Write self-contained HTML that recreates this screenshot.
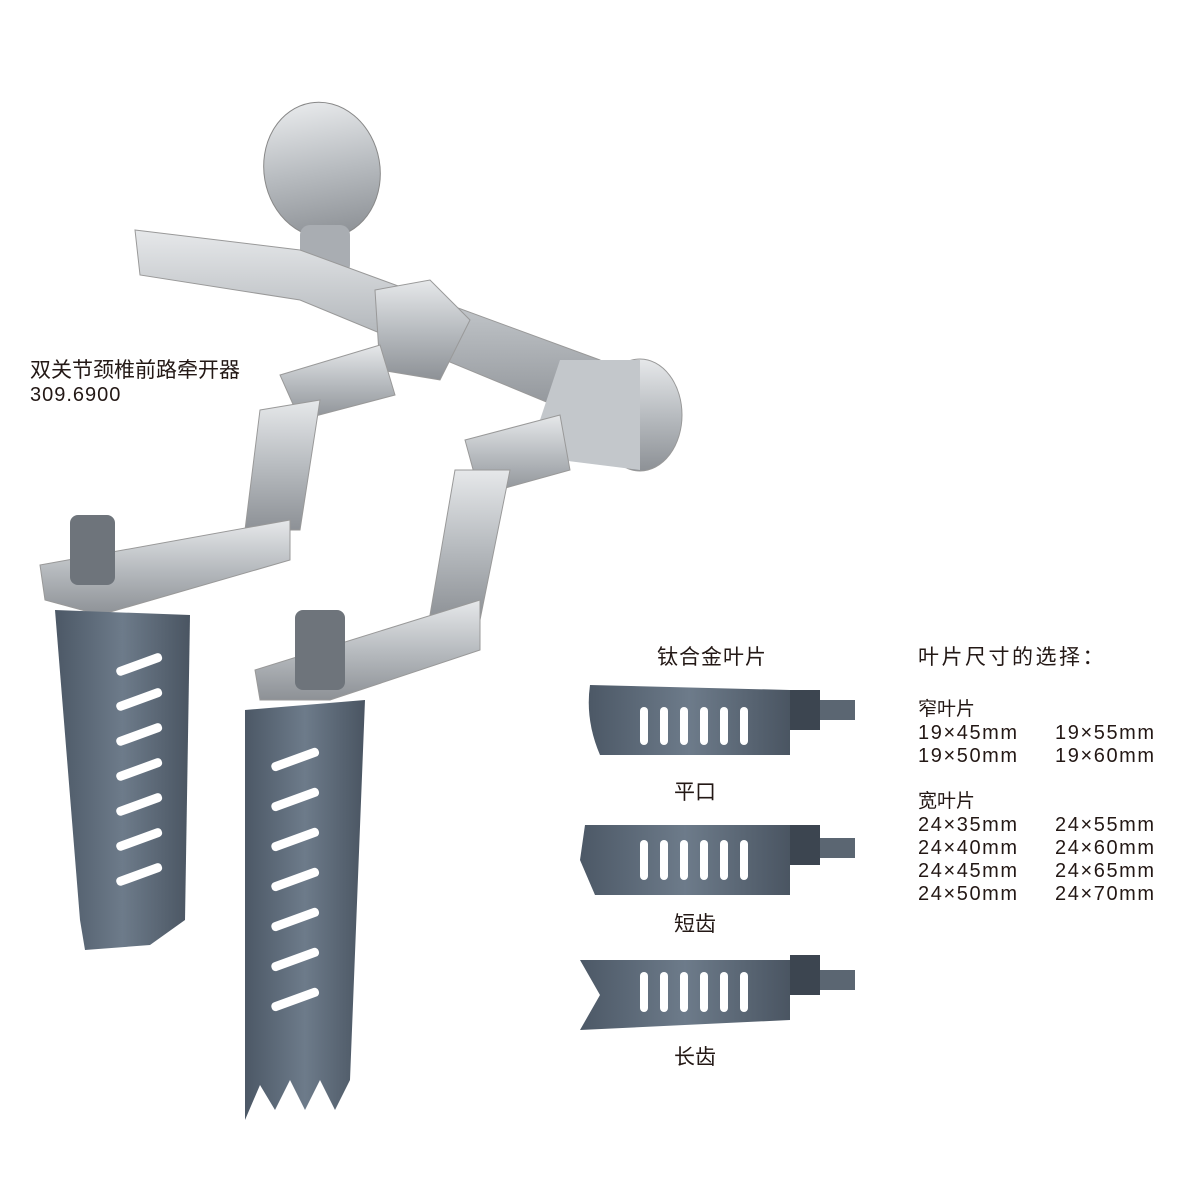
<!DOCTYPE html>
<html><head><meta charset="utf-8"><style>
html,body{margin:0;padding:0;background:#fff;width:1200px;height:1200px;overflow:hidden}
.t{position:absolute;font-family:"Liberation Sans","Noto Sans CJK SC",sans-serif;color:#231815;white-space:nowrap;line-height:1}
.n{letter-spacing:1.6px;font-size:20px;line-height:23px}
</style></head><body>
<svg width="1200" height="1200" style="position:absolute;left:0;top:0">
<defs>
<linearGradient id="m" x1="0" y1="0" x2="0" y2="1"><stop offset="0" stop-color="#e6e8ea"/><stop offset="0.5" stop-color="#b8bcc0"/><stop offset="1" stop-color="#8d9196"/></linearGradient>
<linearGradient id="b" x1="0" y1="0" x2="1" y2="0"><stop offset="0" stop-color="#4c5866"/><stop offset="0.5" stop-color="#6d7b8a"/><stop offset="1" stop-color="#4a5562"/></linearGradient>
</defs>
<ellipse cx="322" cy="170" rx="58" ry="68" fill="url(#m)" stroke="#888" transform="rotate(-10 322 170)"/>
<rect x="300" y="225" width="50" height="50" rx="10" fill="#a9adb2"/>
<polygon points="135,230 300,250 600,360 590,420 300,300 140,275" fill="url(#m)" stroke="#999"/>
<polygon points="375,290 430,280 470,320 440,380 380,370" fill="url(#m)" stroke="#999"/>
<ellipse cx="640" cy="415" rx="42" ry="56" fill="url(#m)" stroke="#999"/>
<polygon points="560,360 640,360 640,470 560,460 540,420" fill="#c3c7cb"/>
<polygon points="280,375 380,345 395,395 300,420" fill="url(#m)" stroke="#999"/>
<polygon points="260,410 320,400 300,530 245,530" fill="url(#m)" stroke="#999"/>
<polygon points="40,565 290,520 290,560 100,615 45,600" fill="url(#m)" stroke="#999"/>
<rect x="70" y="515" width="45" height="70" rx="8" fill="#6e747b"/>
<polygon points="465,440 560,415 570,470 480,495" fill="url(#m)" stroke="#999"/>
<polygon points="455,470 510,470 480,620 430,615" fill="url(#m)" stroke="#999"/>
<polygon points="255,670 480,600 480,650 330,700 260,700" fill="url(#m)" stroke="#999"/>
<rect x="295" y="610" width="50" height="80" rx="8" fill="#6e747b"/>
<path d="M55,610 L190,615 L185,920 L150,945 L85,950 L80,920 Z" fill="url(#b)"/>
<path d="M245,710 L365,700 L350,1080 L335,1110 L320,1080 L305,1110 L290,1080 L275,1110 L260,1085 L245,1120 Z" fill="url(#b)"/>
<g fill="#fff">
<rect x="115" y="660" width="48" height="9" rx="4" transform="rotate(-20 139 664)"/>
<rect x="115" y="695" width="48" height="9" rx="4" transform="rotate(-20 139 699)"/>
<rect x="115" y="730" width="48" height="9" rx="4" transform="rotate(-20 139 734)"/>
<rect x="115" y="765" width="48" height="9" rx="4" transform="rotate(-20 139 769)"/>
<rect x="115" y="800" width="48" height="9" rx="4" transform="rotate(-20 139 804)"/>
<rect x="115" y="835" width="48" height="9" rx="4" transform="rotate(-20 139 839)"/>
<rect x="115" y="870" width="48" height="9" rx="4" transform="rotate(-20 139 874)"/>
<rect x="270" y="755" width="50" height="9" rx="4" transform="rotate(-20 295 759)"/>
<rect x="270" y="795" width="50" height="9" rx="4" transform="rotate(-20 295 799)"/>
<rect x="270" y="835" width="50" height="9" rx="4" transform="rotate(-20 295 839)"/>
<rect x="270" y="875" width="50" height="9" rx="4" transform="rotate(-20 295 879)"/>
<rect x="270" y="915" width="50" height="9" rx="4" transform="rotate(-20 295 919)"/>
<rect x="270" y="955" width="50" height="9" rx="4" transform="rotate(-20 295 959)"/>
<rect x="270" y="995" width="50" height="9" rx="4" transform="rotate(-20 295 999)"/>
</g>
<path d="M590,685 L790,690 L790,755 L600,755 Q585,720 590,685Z" fill="url(#b)"/>
<rect x="790" y="690" width="30" height="40" fill="#3c4550"/><rect x="820" y="700" width="35" height="20" fill="#5b6672"/>
<path d="M585,825 L790,825 L790,895 L595,895 L580,860Z" fill="url(#b)"/>
<rect x="790" y="825" width="30" height="40" fill="#3c4550"/><rect x="820" y="838" width="35" height="20" fill="#5b6672"/>
<path d="M580,960 L790,960 L790,1020 L580,1030 L600,995Z" fill="url(#b)"/>
<rect x="790" y="955" width="30" height="40" fill="#3c4550"/><rect x="820" y="970" width="35" height="20" fill="#5b6672"/>
<g fill="#fff">
<rect x="640" y="707" width="8" height="38" rx="4"/><rect x="660" y="707" width="8" height="38" rx="4"/><rect x="680" y="707" width="8" height="38" rx="4"/><rect x="700" y="707" width="8" height="38" rx="4"/><rect x="720" y="707" width="8" height="38" rx="4"/><rect x="740" y="707" width="8" height="38" rx="4"/>
<rect x="640" y="840" width="8" height="40" rx="4"/><rect x="660" y="840" width="8" height="40" rx="4"/><rect x="680" y="840" width="8" height="40" rx="4"/><rect x="700" y="840" width="8" height="40" rx="4"/><rect x="720" y="840" width="8" height="40" rx="4"/><rect x="740" y="840" width="8" height="40" rx="4"/>
<rect x="640" y="972" width="8" height="40" rx="4"/><rect x="660" y="972" width="8" height="40" rx="4"/><rect x="680" y="972" width="8" height="40" rx="4"/><rect x="700" y="972" width="8" height="40" rx="4"/><rect x="720" y="972" width="8" height="40" rx="4"/><rect x="740" y="972" width="8" height="40" rx="4"/>
</g>
</svg>
<div class="t" style="left:30px;top:360px;font-size:21px">双关节颈椎前路牵开器</div>
<div class="t" style="left:30px;top:385px;font-size:20px;letter-spacing:1px">309.6900</div>
<div class="t" style="left:657px;top:647px;font-size:21px;letter-spacing:1px">钛合金叶片</div>
<div class="t" style="left:674px;top:782px;font-size:21px">平口</div>
<div class="t" style="left:674px;top:914px;font-size:21px">短齿</div>
<div class="t" style="left:674px;top:1047px;font-size:21px">长齿</div>
<div class="t" style="left:918px;top:647px;font-size:21px;letter-spacing:2.5px">叶片尺寸的选择：</div>
<div class="t" style="left:918px;top:700px;font-size:19px">窄叶片</div>
<div class="t n" style="left:918px;top:722px">19×45mm<br>19×50mm</div>
<div class="t n" style="left:1055px;top:722px">19×55mm<br>19×60mm</div>
<div class="t" style="left:918px;top:792px;font-size:19px">宽叶片</div>
<div class="t n" style="left:918px;top:814px">24×35mm<br>24×40mm<br>24×45mm<br>24×50mm</div>
<div class="t n" style="left:1055px;top:814px">24×55mm<br>24×60mm<br>24×65mm<br>24×70mm</div>
</body></html>
